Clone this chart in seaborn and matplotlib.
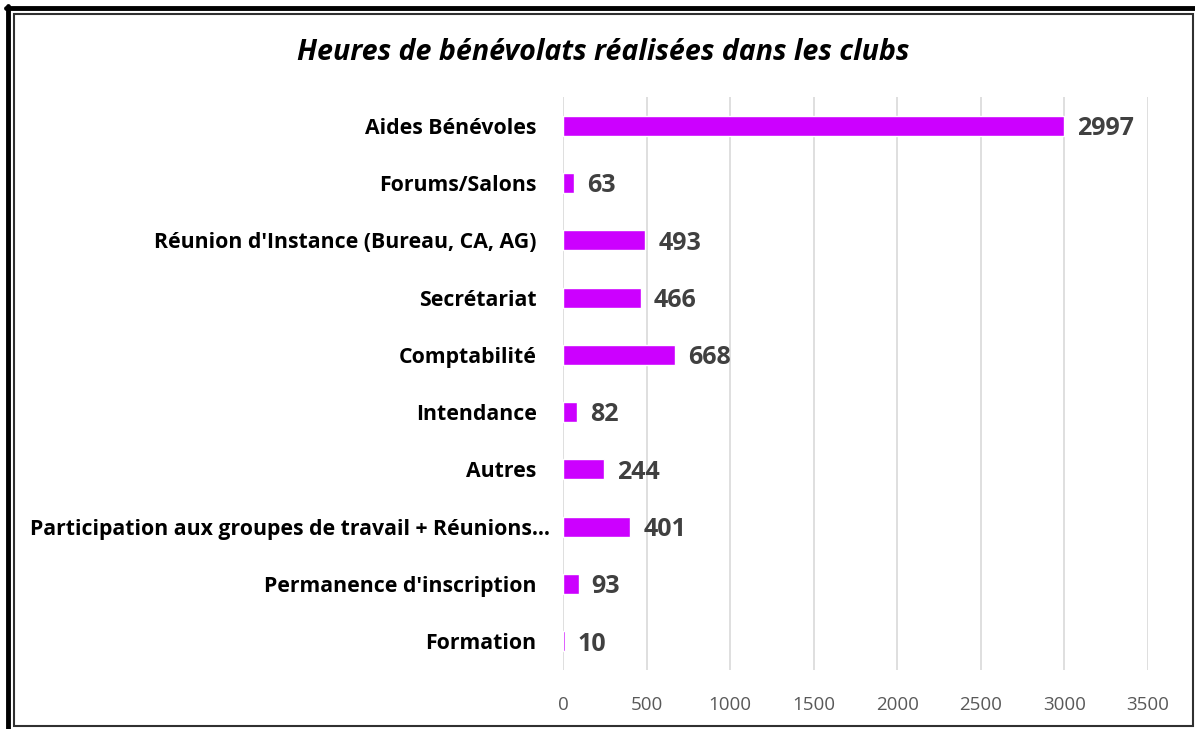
import matplotlib
matplotlib.use("Agg")
import matplotlib.pyplot as plt
import matplotlib.transforms as mtransforms
import seaborn as sns
import pandas as pd
from matplotlib.lines import Line2D
from matplotlib.patches import Rectangle

categories = [
    "Aides Bénévoles",
    "Forums/Salons",
    "Réunion d'Instance (Bureau, CA, AG)",
    "Secrétariat",
    "Comptabilité",
    "Intendance",
    "Autres",
    "Participation aux groupes de travail + Réunions…",
    "Permanence d'inscription",
    "Formation",
]
heures = [2997, 63, 493, 466, 668, 82, 244, 401, 93, 10]
x_ticks = [0, 500, 1000, 1500, 2000, 2500, 3000, 3500]
titre = "Heures de bénévolats réalisées dans les clubs"

sns.set_theme(style="white")
plt.rcParams['font.family'] = ['Open Sans', 'DejaVu Sans']

df = pd.DataFrame({"categorie": categories, "heures": heures})

W, H = 1195, 729
fig = plt.figure(figsize=(W / 100, H / 100), dpi=100)
ax = fig.add_axes([563 / W, 1 - 670 / H, (1148 - 563) / W, (670 - 97) / H])

sns.barplot(data=df, x="heures", y="categorie", orient="h", color="#CC00FF",
            width=0.35, saturation=1, ax=ax)

ax.set_xlim(0, 3500)
ax.set_xticks(x_ticks)
ax.set_xticklabels([str(t) for t in x_ticks], fontsize=13.5, color="#595959")
ax.tick_params(axis="x", length=0, pad=19)
ax.tick_params(axis="y", length=0, pad=19)
for lab in ax.get_yticklabels():
    lab.set_fontsize(15.3)
    lab.set_fontweight("bold")
    lab.set_color("black")
    if lab.get_text().startswith("Participation"):
        # le libellé tronqué déborde un peu vers la droite dans l'original
        lab.set_transform(lab.get_transform() +
                          mtransforms.ScaledTranslation(0.13, 0, fig.dpi_scale_trans))
ax.set_xlabel("")
ax.set_ylabel("")
ax.grid(axis="x", color="#D9D9D9", linewidth=1.2)
ax.set_axisbelow(True)
for s in ax.spines.values():
    s.set_visible(False)

for i, v in enumerate(heures):
    ax.annotate(str(v), xy=(v, i), xytext=(9.5, -2), textcoords="offset points",
                ha="left", va="center", fontsize=18, fontweight="bold",
                color="#404040")

fig.text(603 / W, 1 - 52 / H, titre, ha="center", va="center",
         fontsize=20.6, fontweight="bold", fontstyle="italic", color="black")

# cadre
fig.add_artist(Line2D([6 / W, 1], [1 - 8 / H, 1 - 8 / H], color="black",
                      linewidth=3.5, transform=fig.transFigure))
fig.add_artist(Line2D([8 / W, 8 / W], [0, 1 - 6 / H], color="black",
                      linewidth=3.5, transform=fig.transFigure))
fig.add_artist(Rectangle((13.5 / W, 1 - 726 / H), (1193 - 13.5) / W,
                         (726 - 13.5) / H, fill=False, edgecolor="#303030",
                         linewidth=1.5, transform=fig.transFigure))

plt.savefig("out.png", dpi=100)
